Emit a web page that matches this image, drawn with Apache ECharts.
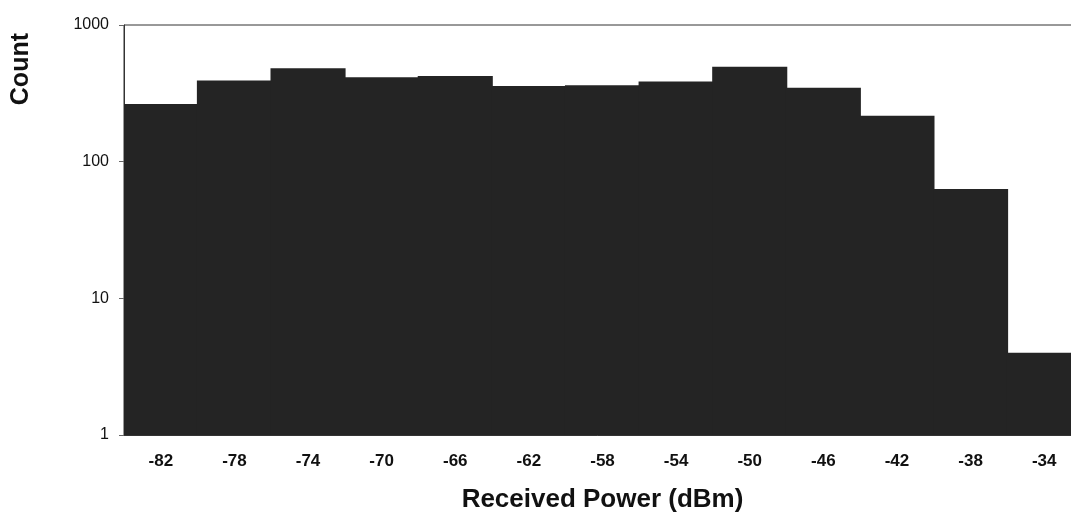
<!DOCTYPE html>
<html>
<head>
<meta charset="utf-8">
<script src="https://cdn.jsdelivr.net/npm/echarts@6/dist/echarts.min.js"></script>
<style>html,body{margin:0;padding:0;background:#fff}#c{width:1071px;height:513px}</style>
</head>
<body>
<div id="c"></div>
<script>
const categories = ['-82','-78','-74','-70','-66','-62','-58','-54','-50','-46','-42','-38','-34'];
const counts = [264, 392, 482, 414, 424, 358, 362, 386, 495, 347, 217, 63, 4];
const xTitle = 'Received Power (dBm)';
const yTitle = 'Count';

const FONT = 'Liberation Sans, Arial, sans-serif';
const chart = echarts.init(document.getElementById('c'));
chart.setOption({
  animation: false,
  backgroundColor: '#fff',
  grid: { left: 124, top: 25, width: 957, height: 410, outerBoundsMode: 'none', containLabel: false, show: true, borderColor: '#333', borderWidth: 1, backgroundColor: 'transparent' },
  xAxis: {
    type: 'category', data: categories,
    axisLine: { lineStyle: { color: '#333', width: 1 } },
    axisTick: { show: false },
    axisLabel: { color: '#111', fontFamily: FONT, fontWeight: 'bold', fontSize: 17, margin: 18 },
    name: xTitle, nameLocation: 'middle', nameGap: 52,
    nameTextStyle: { color: '#111', fontFamily: FONT, fontWeight: 'bold', fontSize: 26 }
  },
  yAxis: {
    type: 'log', logBase: 10, min: 1, max: 1000,
    axisLine: { show: true, lineStyle: { color: '#333', width: 1 } },
    axisTick: { show: true, length: 5, lineStyle: { color: '#666' } },
    minorTick: { show: false },
    splitLine: { show: false },
    axisLabel: { color: '#111', fontFamily: FONT, fontSize: 16, margin: 15, formatter: v => String(Math.round(v)) }
  },
  graphic: [{
    type: 'text', left: 9, top: 33, rotation: Math.PI / 2,
    style: { text: yTitle, fill: '#111', font: 'bold 25px "Liberation Sans", Arial, sans-serif' }
  }],
  series: [{
    type: 'bar', data: counts, barWidth: '102%',
    itemStyle: { color: '#242424' }
  }]
});
</script>
</body>
</html>
